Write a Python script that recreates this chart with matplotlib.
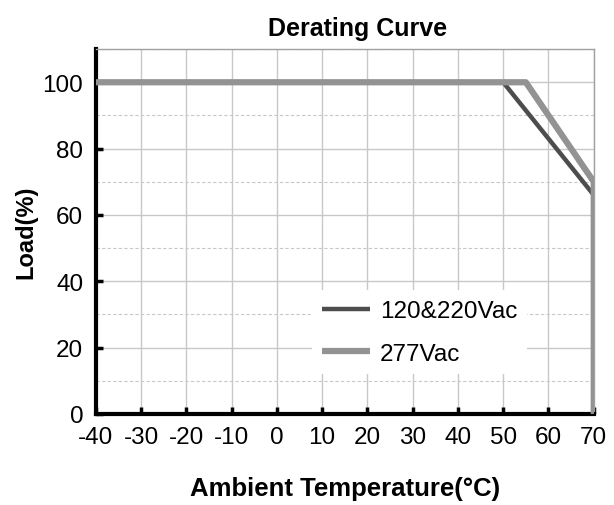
import matplotlib.pyplot as plt
from matplotlib.ticker import MultipleLocator

# Data
temp_low = [-40, 50, 70]
load_low = [100, 100, 66]
temp_277 = [-40, 55, 70, 70]
load_277 = [100, 100, 70, 0]
x_ticks = [-40, -30, -20, -10, 0, 10, 20, 30, 40, 50, 60, 70]
y_ticks = [0, 20, 40, 60, 80, 100]

plt.rcParams['font.family'] = ['Liberation Sans', 'DejaVu Sans']
plt.rcParams['axes.unicode_minus'] = False

fig = plt.figure(figsize=(6.14, 5.06), dpi=100)
ax = fig.add_axes([0.156, 0.18, 0.811, 0.721])

ax.plot(temp_low, load_low, color='#4d4d4d', lw=3.2, label='120&220Vac',
        solid_capstyle='butt', zorder=3)
ax.plot(temp_277, load_277, color='#939393', lw=4.5, label='277Vac',
        solid_capstyle='butt', zorder=4)

ax.set_xlim(-40, 70)
ax.set_ylim(0, 110)
ax.set_xticks(x_ticks)
ax.set_yticks(y_ticks)
ax.yaxis.set_minor_locator(MultipleLocator(10))

ax.grid(True, which='major', axis='both', color='#c8c8c8', lw=1.0)
ax.grid(True, which='minor', axis='y', color='#c8c8c8', lw=0.8, ls=(0, (3, 2)))
ax.set_axisbelow(True)

ax.tick_params(axis='both', which='major', direction='in', length=5, width=2.5,
               color='black', labelsize=17.5, pad=9)
ax.tick_params(axis='y', which='minor', length=0)

for s in ['left', 'bottom']:
    ax.spines[s].set_linewidth(3)
    ax.spines[s].set_color('black')
for s in ['top', 'right']:
    ax.spines[s].set_linewidth(1)
    ax.spines[s].set_color('#a0a0a0')

ax.set_xlabel('Ambient Temperature(°C)', fontsize=18.5, fontweight='bold', labelpad=20)
ax.set_ylabel('Load(%)', fontsize=17, fontweight='bold', labelpad=4)
fig.text(0.582, 0.943, 'Derating Curve', fontsize=18, fontweight='bold',
         ha='center', va='center')

leg = ax.legend(loc='upper left', bbox_to_anchor=(0.41, 0.372), fontsize=17.5,
                frameon=True, framealpha=1, edgecolor='none', facecolor='white',
                handlelength=2.0, handletextpad=0.4, labelspacing=0.85,
                borderpad=0.4)
leg.set_zorder(5)

fig.savefig('out.png', dpi=100)
